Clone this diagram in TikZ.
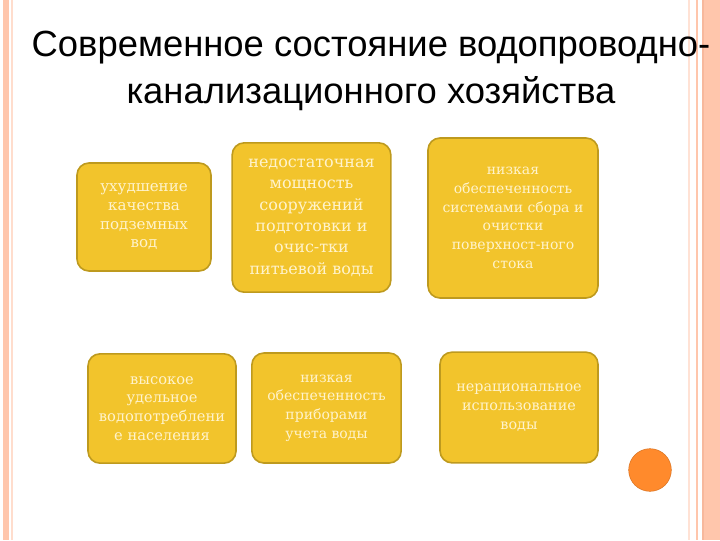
\documentclass[tikz,border=0pt]{standalone}
\usepackage{fontspec}
\setmainfont{DejaVu Serif}
\newfontfamily\titlefont{Liberation Sans}
\usetikzlibrary{positioning}

\definecolor{boxfill}{HTML}{F2C42C}
\definecolor{boxline}{HTML}{BE9A1E}
\definecolor{boxtext}{HTML}{FFF3CC}
\definecolor{stripe}{HTML}{FFC6AC}
\definecolor{stripeline}{HTML}{F7B89C}
\definecolor{dot}{HTML}{FF8A2C}

\begin{document}
\begin{tikzpicture} [
						x=0.75pt, y=-0.75pt,
						box/.style={draw=boxline, line width=1.2pt, fill=boxfill, rounded corners=9pt,
							text=boxtext, align=center, inner sep=0pt, font=\fontsize{10.5}{14}\selectfont},
						bigbox/.style={box, font=\fontsize{12}{16}\selectfont},
						wide/.style={box, font=\fontsize{11.3}{14}\selectfont}
					]

\useasboundingbox (0,0) rectangle (720,540);

% page border
\fill[stripe] (3,0) rectangle (9,540);
\draw[stripe!60, line width=0.8pt] (12,0) -- (12,540);
\draw[stripe!50, line width=0.8pt] (689,0) -- (689,540);
\draw[stripe, line width=1pt] (697,0) -- (697,540);
\fill[stripe] (702,0) rectangle (720,540);
\draw[stripeline, line width=1pt] (703,0) -- (703,540);

\node (title) at (371,71) [align=center, font=\titlefont\fontsize{27.3}{35}\selectfont]
	{Современное состояние водопроводно-\\канализационного хозяйства};

\node (a) at (144,217) [wide, minimum width=100.5pt, minimum height=81pt]
	{ухудшение\\качества\\подземных\\вод};
\node (b) at (311.5,217.5) [bigbox, minimum width=119pt, minimum height=112pt]
	{недостаточная\\мощность\\сооружений\\подготовки и\\очис-тки\\питьевой воды};
\node (c) at (513,218) [box, minimum width=127.5pt, minimum height=120pt]
	{низкая\\обеспеченность\\системами сбора и\\очистки\\поверхност-ного\\стока};
\node (d) at (162,408.5) [box, font=\fontsize{11}{14}\selectfont, minimum width=111pt, minimum height=82pt]
	{высокое\\удельное\\водопотреблени\\е населения};
\node (e) at (326.5,408) [box, minimum width=112pt, minimum height=82.5pt]
	{низкая\\обеспеченность\\приборами\\учета воды};
\node (f) at (519,407.5) [box, font=\fontsize{10.8}{14}\selectfont, minimum width=118.5pt, minimum height=83pt]
	{нерациональное\\использование\\воды};

\fill[dot, draw=dot!85!black, line width=0.4pt] (650,470) circle (16pt);

\end{tikzpicture}
\end{document}
